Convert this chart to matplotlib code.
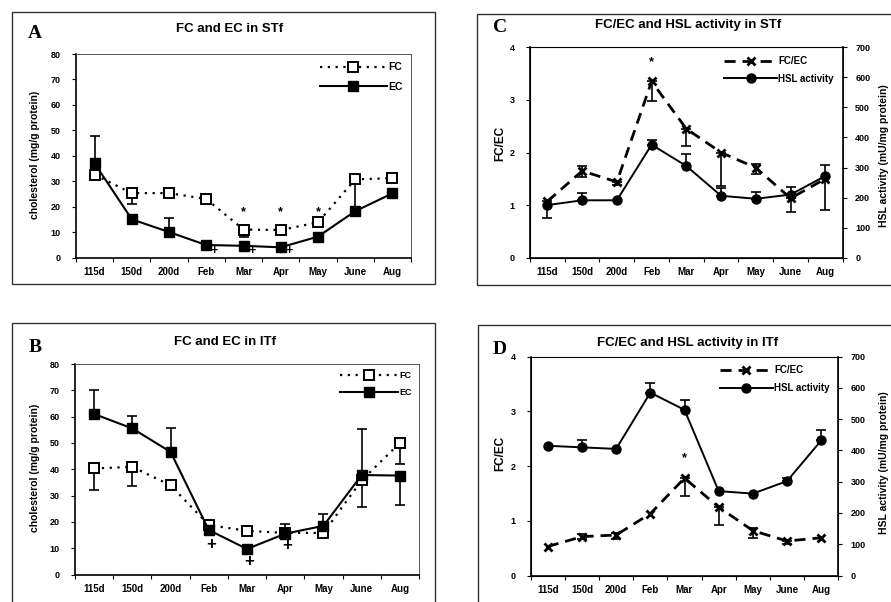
import numpy as np
import matplotlib
matplotlib.use("Agg")
import matplotlib.pyplot as plt
from matplotlib.patches import Rectangle

plt.rcParams["font.family"] = ["Liberation Sans", "DejaVu Sans"]
plt.rcParams["font.weight"] = "bold"

months = ["115d", "150d", "200d", "Feb", "Mar", "Apr", "May", "June", "Aug"]

# free / esterified cholesterol, STf (mg/g protein)
fc_stf = [32.5, 25.3, 25.3, 23.0, 11.0, 10.8, 13.8, 30.7, 31.2]
fc_stf_lo = [0, 4.2, 0, 0, 2.8, 0, 0, 0, 0]
fc_stf_hi = [0, 0, 0, 0, 0, 0, 0, 0, 1.5]
ec_stf = [37.0, 15.0, 10.0, 4.9, 4.6, 4.0, 8.2, 18.2, 25.2]
ec_stf_lo = [0, 0, 0, 0, 0, 0, 0, 0, 0]
ec_stf_hi = [10.9, 0, 5.6, 0, 0, 0, 0, 12.0, 0]
star_stf = ["Mar", "Apr", "May"]
plus_stf = ["Feb", "Mar", "Apr"]

# free / esterified cholesterol, ITf
fc_itf = [40.3, 40.9, 33.9, 18.8, 16.6, 15.8, 15.8, 35.8, 50.0]
fc_itf_lo = [8.0, 7.2, 0, 0, 0, 0, 0, 10.0, 8.0]
fc_itf_hi = [0, 0, 0, 0, 0, 0, 0, 0, 0]
ec_itf = [61.0, 55.5, 46.6, 16.9, 9.7, 15.5, 18.5, 37.8, 37.6]
ec_itf_lo = [0, 0, 0, 0, 0, 0, 0, 0, 11.3]
ec_itf_hi = [9.0, 4.6, 8.9, 0, 0, 3.8, 4.5, 17.4, 0]
plus_itf = {"Feb": 11.5, "Mar": 5.0, "Apr": 11.0}

# FC/EC ratio and HSL activity (mU/mg protein), STf
fcec_stf = [1.07, 1.65, 1.44, 3.35, 2.45, 2.0, 1.71, 1.13, 1.50]
fcec_stf_lo = [0, 0.12, 0.05, 0.37, 0.32, 0.63, 0.12, 0.27, 0]
fcec_stf_hi = [0, 0.10, 0, 0, 0, 0, 0.08, 0, 0]
hsl_stf = [175, 191, 191, 376, 305, 206, 196, 210, 272]
hsl_stf_lo = [44, 0, 0, 0, 0, 0, 0, 0, 113]
hsl_stf_hi = [15, 24, 0, 14, 40, 27, 22, 26, 36]
star_fcec_stf = {"Feb": 3.72}

# FC/EC ratio and HSL activity, ITf
fcec_itf = [0.53, 0.71, 0.74, 1.13, 1.78, 1.25, 0.82, 0.63, 0.69]
fcec_itf_lo = [0, 0.04, 0.08, 0, 0.32, 0.32, 0.14, 0.05, 0]
fcec_itf_hi = [0, 0.04, 0.04, 0, 0, 0, 0.04, 0, 0]
hsl_itf = [415, 410, 405, 585, 530, 270, 262, 302, 432]
hsl_itf_lo = [0, 0, 0, 0, 0, 0, 0, 0, 0]
hsl_itf_hi = [0, 25, 0, 30, 30, 0, 0, 10, 32]
star_fcec_itf = {"Mar": 2.15}

W, H = 891, 602
fig = plt.figure(figsize=(W / 100, H / 100), dpi=100)
fig.patch.set_facecolor("white")
x = np.arange(len(months))


def px_axes(l, t, r, b):
    return fig.add_axes([l / W, 1 - b / H, (r - l) / W, (b - t) / H])


def panel_box(l, t, r, b):
    fig.patches.append(Rectangle((l / W, 1 - b / H), (r - l) / W, (b - t) / H,
                                 transform=fig.transFigure, fill=False,
                                 lw=1.0, ec="#333333", zorder=0))


def bars(ax, y, lo, hi, **kw):
    lo = np.asarray(lo, float)
    hi = np.asarray(hi, float)
    m = (lo > 0) | (hi > 0)
    ax.errorbar(x[m], np.asarray(y)[m], yerr=[lo[m], hi[m]], fmt="none",
                ecolor="black", elinewidth=1.2, capsize=3.5, capthick=1.2, **kw)


def style(ax, ymax, step):
    ax.set_xlim(-0.5, len(months) - 0.5)
    ax.set_ylim(0, ymax)
    ax.set_yticks(np.arange(0, ymax + step / 2, step))
    ax.set_xticks(x)
    ax.set_xticklabels(months, fontsize=7, fontweight="bold")
    ax.set_xticks(np.arange(-0.5, len(months)), minor=True)
    ax.tick_params(axis="x", which="major", length=0, pad=7)
    ax.tick_params(axis="x", which="minor", length=3, width=0.8, direction="out")
    ax.tick_params(axis="y", length=3, width=0.8, labelsize=6.5, pad=8)
    for lab in ax.get_yticklabels():
        lab.set_fontweight("bold")
    for side in ["left", "bottom"]:
        ax.spines[side].set_linewidth(1.2)
    for side in ["top", "right"]:
        ax.spines[side].set_linewidth(0.7)
        ax.spines[side].set_color("#555555")


def cholesterol_panel(rect, fc, fc_lo, fc_hi, ec, ec_lo, ec_hi, leg_fs):
    ax = px_axes(*rect)
    bars(ax, fc, fc_lo, fc_hi, zorder=2)
    bars(ax, ec, ec_lo, ec_hi, zorder=2)
    ax.plot(x, fc, color="black", lw=1.6, ls=(0, (1, 2.5)), marker="s", ms=6.5,
            mfc="white", mec="black", mew=1.4, label="FC", zorder=3)
    ax.plot(x, ec, color="black", lw=1.5, marker="s", ms=7, mfc="black",
            mec="black", label="EC", zorder=4)
    style(ax, 80, 10)
    ax.legend(loc="upper right", frameon=False, handlelength=6.5,
              handletextpad=0.1, borderaxespad=0.4, labelspacing=0.9,
              prop={"weight": "bold", "size": leg_fs})
    return ax


def ratio_panel(rect, ratio, r_lo, r_hi, hsl, h_lo, h_hi):
    ax = px_axes(*rect)
    bars(ax, ratio, r_lo, r_hi, zorder=2)
    ax.plot(x, ratio, color="black", lw=2.0, ls=(0, (4, 2.5)), marker="x", ms=6,
            mew=2.0, label="FC/EC", zorder=3)
    style(ax, 4, 1)
    ax2 = ax.twinx()
    bars(ax2, hsl, h_lo, h_hi, zorder=2)
    ax2.plot(x, hsl, color="black", lw=1.4, marker="o", ms=6.5, mfc="black",
             mec="black", label="HSL activity", zorder=4)
    ax2.set_ylim(0, 700)
    ax2.set_yticks(np.arange(0, 701, 100))
    ax2.tick_params(axis="y", length=3, width=0.8, labelsize=6.5, pad=6)
    for lab in ax2.get_yticklabels():
        lab.set_fontweight("bold")
    ax2.spines["right"].set_linewidth(1.2)
    ax2.spines["right"].set_color("black")
    h1, l1 = ax.get_legend_handles_labels()
    h2, l2 = ax2.get_legend_handles_labels()
    ax2.legend(h1 + h2, l1 + l2, loc="upper right", frameon=False,
               handlelength=5.5, handletextpad=0.1, borderaxespad=0.5,
               labelspacing=0.8, prop={"weight": "bold", "size": 7})
    return ax, ax2


# panel frames
panel_box(12, 12, 435, 284)
panel_box(12, 323, 435, 612)
panel_box(477, 14, 905, 285)
panel_box(478, 325, 905, 612)

# A
axA = cholesterol_panel((76, 54, 411, 257.5), fc_stf, fc_stf_lo, fc_stf_hi,
                        ec_stf, ec_stf_lo, ec_stf_hi, 7.5)
for m in star_stf:
    axA.text(months.index(m), 18.0, "*", ha="center", va="center", fontsize=9,
             fontweight="bold")
for m in plus_stf:
    axA.text(months.index(m) + 0.22, 2.6, "+", ha="center", va="center",
             fontsize=9)

# B
axB = cholesterol_panel((75, 364, 419, 574.5), fc_itf, fc_itf_lo, fc_itf_hi,
                        ec_itf, ec_itf_lo, ec_itf_hi, 6.5)
for m, v in plus_itf.items():
    axB.text(months.index(m) + 0.05, v, "+", ha="center", va="center",
             fontsize=12)

# C
axC, axC2 = ratio_panel((530, 47.3, 842.7, 257.7), fcec_stf, fcec_stf_lo,
                        fcec_stf_hi, hsl_stf, hsl_stf_lo, hsl_stf_hi)
for m, v in star_fcec_stf.items():
    axC.text(months.index(m), v, "*", ha="center", va="center", fontsize=9,
             fontweight="bold")

# D
axD, axD2 = ratio_panel((530.7, 356.7, 838.3, 575.5), fcec_itf, fcec_itf_lo,
                        fcec_itf_hi, hsl_itf, hsl_itf_lo, hsl_itf_hi)
for m, v in star_fcec_itf.items():
    axD.text(months.index(m), v, "*", ha="center", va="center", fontsize=9,
             fontweight="bold")


# titles, panel letters and axis labels
def ftext(px, py, s, **kw):
    fig.text(px / W, 1 - py / H, s, **kw)


ftext(230, 29, "FC and EC in STf", ha="center", va="center", fontsize=9.5,
      fontweight="bold")
ftext(225, 342, "FC and EC in ITf", ha="center", va="center", fontsize=9.5,
      fontweight="bold")
ftext(688, 25, "FC/EC and HSL activity in STf", ha="center", va="center",
      fontsize=9.5, fontweight="bold")
ftext(688, 343, "FC/EC and HSL activity in ITf", ha="center", va="center",
      fontsize=9.5, fontweight="bold")

for px, py, s in [(35, 33, "A"), (35, 347, "B"), (500, 27, "C"), (500, 349, "D")]:
    ftext(px, py, s, ha="center", va="center", fontsize=14, fontweight="bold",
          family="Liberation Serif")

for py in (155, 468):
    ftext(35, py, "cholesterol (mg/g protein)", ha="center", va="center",
          rotation=90, fontsize=7.5, fontweight="bold")
for py in (143, 453):
    ftext(500, py, "FC/EC", ha="center", va="center", rotation=90,
          fontsize=8.5, fontweight="bold")
for py in (156, 463):
    ftext(884, py, "HSL activity (mU/mg protein)", ha="center", va="center",
          rotation=90, fontsize=7.5, fontweight="bold")

fig.savefig("out.png", dpi=100, facecolor="white")
